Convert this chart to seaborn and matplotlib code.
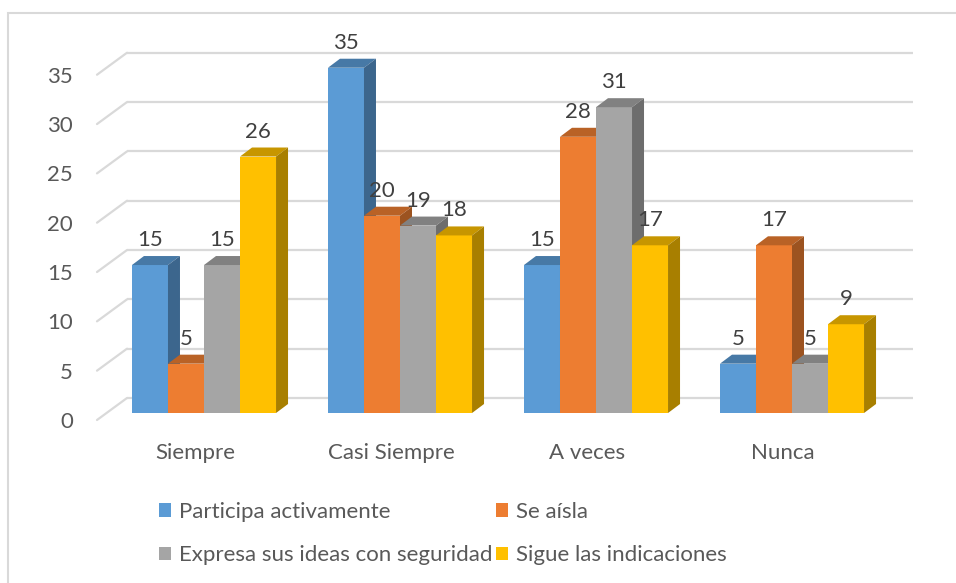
import numpy as np
import pandas as pd
import seaborn as sns
import matplotlib
matplotlib.use("Agg")
import matplotlib.pyplot as plt
from matplotlib.patches import Polygon, Rectangle, Patch
from matplotlib import transforms
from matplotlib import colors as mcolors

categories = ["Siempre", "Casi Siempre", "A veces", "Nunca"]
series_names = ["Participa activamente", "Se aísla",
                "Expresa sus ideas con seguridad", "Sigue las indicaciones"]
participa = [15, 35, 15, 5]
se_aisla = [5, 20, 28, 17]
expresa = [15, 19, 31, 5]
sigue = [26, 18, 17, 9]
series_colors = ["#5B9BD5", "#ED7D31", "#A5A5A5", "#FFC000"]
yticks = [0, 5, 10, 15, 20, 25, 30, 35]

rows = []
for name, vals in zip(series_names, [participa, se_aisla, expresa, sigue]):
    for c, v in zip(categories, vals):
        rows.append({"Categoria": c, "Serie": name, "Valor": v})
df = pd.DataFrame(rows)

sns.set_theme(style="white")
plt.rcParams["font.family"] = ["Lato", "DejaVu Sans"]
TXT = "#595959"
FS = 16

W, H = 956, 583
fig = plt.figure(figsize=(W / 100, H / 100), dpi=100)
ax_left, ax_right, ax_bottom, ax_top = 97, 913, 413, 48
ax = fig.add_axes([ax_left / W, (H - ax_bottom) / H,
                   (ax_right - ax_left) / W, (ax_bottom - ax_top) / H])

width = 0.735
sns.barplot(data=df, x="Categoria", y="Valor", hue="Serie", order=categories,
            hue_order=series_names, palette=series_colors, width=width,
            saturation=1, ax=ax, legend=False, errorbar=None)

xmin = (ax_left - 204) / 196
xmax = (ax_right - 204) / 196
ymax = 37
ax.set_xlim(xmin, xmax)
ax.set_ylim(0, ymax)
for s in ax.spines.values():
    s.set_visible(False)

px_x = (ax_right - ax_left) / (xmax - xmin)
px_y = (ax_bottom - ax_top) / ymax
ddx = 12 / px_x
ddy = 9 / px_y

def shade(c, f):
    r, g, b = mcolors.to_rgb(c)
    return (r * f, g * f, b * f)

bars = sorted(ax.patches, key=lambda p: p.get_x())
for k, p in enumerate(bars):
    x0 = p.get_x(); w = p.get_width(); h = p.get_height()
    fc = p.get_facecolor()
    p.set_edgecolor("none")
    p.set_zorder(3 + 3 * k)
    top = Polygon([(x0, h), (x0 + w, h), (x0 + w + ddx, h + ddy), (x0 + ddx, h + ddy)],
                  closed=True, facecolor=shade(fc, 0.78), edgecolor="none",
                  zorder=3 + 3 * k + 1)
    side = Polygon([(x0 + w, 0), (x0 + w + ddx, ddy), (x0 + w + ddx, h + ddy), (x0 + w, h)],
                   closed=True, facecolor=shade(fc, 0.66), edgecolor="none",
                   zorder=3 + 3 * k + 2)
    ax.add_patch(top); ax.add_patch(side)
    ax.annotate(f"{int(round(h))}", (x0 + w / 2, h), xytext=(0, 25 * 0.72),
                textcoords="offset points", ha="center", va="center",
                fontsize=FS, color="#404040", zorder=100)

# gridlines: back wall + diagonal on the left side wall
blend = transforms.blended_transform_factory(ax.transAxes, ax.transData)
back = blend + transforms.ScaledTranslation(0, 0.15, fig.dpi_scale_trans)
front = blend + transforms.ScaledTranslation(0, -0.07, fig.dpi_scale_trans)
xb = 30 / (ax_right - ax_left)
for v in yticks:
    ax.plot([xb, 1.0], [v, v], transform=back, color="#D9D9D9", lw=1.6,
            clip_on=False, zorder=1, solid_capstyle="butt")
    p0 = front.transform((0, v))
    p1 = back.transform((xb, v))
    ax.plot([p0[0], p1[0]], [p0[1], p1[1]], transform=None, color="#D9D9D9",
            lw=1.6, clip_on=False, zorder=1)

ax.set_yticks(yticks)
ax.set_yticklabels([str(v) for v in yticks])
ax.tick_params(axis="y", length=0, pad=24 * 0.72, labelsize=FS, labelcolor=TXT)
for lab in ax.get_yticklabels():
    lab.set_transform(lab.get_transform() +
                      transforms.ScaledTranslation(0, -0.07, fig.dpi_scale_trans))

ax.set_xticks(range(len(categories)))
ax.set_xticklabels(categories)
ax.tick_params(axis="x", length=0, pad=30 * 0.72, labelsize=FS, labelcolor=TXT)
for lab in ax.get_xticklabels():
    lab.set_transform(lab.get_transform() +
                      transforms.ScaledTranslation(-0.09, 0, fig.dpi_scale_trans))
ax.set_xlabel(""); ax.set_ylabel("")
ax.grid(False)

# legend
handles = [Patch(facecolor=c, edgecolor="none") for c in series_colors]
order = [0, 2, 1, 3]
leg = fig.legend([handles[i] for i in order], [series_names[i] for i in order],
                 ncol=2, loc="upper left", bbox_to_anchor=(159 / W, 1 - 502 / H),
                 frameon=False, fontsize=FS, labelcolor=TXT, handlelength=0.55,
                 handleheight=0.55, handletextpad=0.35, columnspacing=0.15,
                 labelspacing=1.05, borderpad=0, borderaxespad=0)

# outer chart border
fig.patches.append(Rectangle((8 / W, -0.1), 1.2, (H - 13) / H + 0.1,
                             transform=fig.transFigure, fill=False,
                             edgecolor="#D9D9D9", lw=1.5, zorder=0))

fig.savefig("out.png", dpi=100)
